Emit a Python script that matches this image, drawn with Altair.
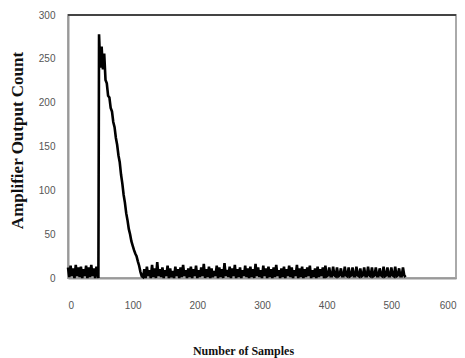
import altair as alt
import pandas as pd

# Pre-pulse baseline noise (samples 0..46, step 2)
pre_vals = [12, 1, 14, 2, 11, 0, 15, 2, 12, 1, 13, 0, 10, 2, 14, 0, 12, 1, 15, 2, 11, 0, 13, 3]
# Drop just before the pulse (sample 47)
drop_val = [0]
# Pulse (samples 48..114, step 2)
pulse_vals = [278, 240, 264, 238, 256, 226, 222, 208, 206, 194, 190, 178, 172, 160, 152, 140, 132,
              118, 108, 95, 86, 74, 66, 56, 50, 42, 37, 32, 28, 25, 19, 14, 7, 2]
# Tail noise (samples 116..398, step 2)
tail1_vals = [1, 10, 0, 13, 2, 9, 0, 15, 1, 11, 0, 18, 2, 10, 1, 12, 0, 9, 2, 14,
              0, 11, 1, 8, 0, 13, 2, 10, 0, 12, 1, 15, 2, 9, 0, 11, 1, 13, 0, 10,
              2, 14, 0, 9, 1, 12, 2, 16, 0, 10, 1, 13, 0, 11, 1, 8, 2, 14, 0, 12,
              1, 10, 0, 17, 2, 9, 1, 13, 0, 11, 2, 15, 0, 10, 1, 12, 0, 9, 2, 14,
              1, 11, 0, 13, 1, 10, 0, 16, 2, 12, 1, 9, 0, 14, 2, 11, 0, 13, 1, 10,
              0, 12, 1, 15, 2, 9, 0, 11, 1, 13, 0, 10, 2, 14, 1, 12, 0, 9, 2, 15,
              0, 11, 1, 13, 0, 10, 1, 12, 2, 14, 0, 9, 1, 11, 0, 13, 1, 10, 2, 12,
              0, 14]
# Tail spikes (samples 400..522, step 2)
tail2_vals = [2, 3, 12, 2, 2, 13, 3, 2, 12, 2, 3, 11, 2, 2, 13, 3, 2, 12, 2, 3,
              12, 2, 2, 13, 3, 2, 11, 2, 3, 12, 2, 2, 13, 3, 2, 12, 2, 3, 12, 2,
              2, 11, 3, 2, 13, 2, 3, 12, 2, 2, 12, 3, 2, 13, 2, 3, 11, 2, 2, 12,
              3, 1]

x_ticks = [0, 100, 200, 300, 400, 500, 600]
y_ticks = [0, 50, 100, 150, 200, 250, 300]

xs = (list(range(0, 47, 2)) + [47] + list(range(48, 115, 2))
      + list(range(116, 400, 2)) + list(range(400, 523, 2)))
ys = pre_vals + drop_val + pulse_vals + tail1_vals + tail2_vals
df = pd.DataFrame({"sample": xs, "count": ys})

W, H = 388, 263

line = alt.Chart(df).mark_line(color="black", strokeWidth=2.6).encode(
    x=alt.X("sample:Q",
            scale=alt.Scale(domain=[0, 600], nice=False, zero=False),
            axis=alt.Axis(values=x_ticks, title="Number of Samples", ticks=False,
                          grid=False, labelPadding=22, labelFontSize=10,
                          labelFont="Liberation Sans", labelColor="#555",
                          domainColor="#999", domainWidth=2,
                          titleFont="Liberation Serif", titleFontSize=12,
                          titleFontWeight="bold", titleColor="#111",
                          titleX=175, titleY=76, titleBaseline="alphabetic",
                          titleAlign="center")),
    y=alt.Y("count:Q",
            scale=alt.Scale(domain=[0, 300], nice=False),
            axis=alt.Axis(values=y_ticks, title="Amplifier Output Count", ticks=False,
                          grid=False, labelPadding=13, labelFontSize=10,
                          labelFont="Liberation Sans", labelColor="#555",
                          domainColor="#999", domainWidth=2,
                          titleFont="Liberation Serif", titleFontSize=17,
                          titleFontWeight="bold", titleColor="#111",
                          titleAngle=270, titleX=-51, titleY=125,
                          titleBaseline="middle", titleAlign="center")),
)

top_rule = alt.Chart(df).mark_rule(color="#444", strokeWidth=2).encode(
    x=alt.value(0), x2=alt.value(W), y=alt.value(0))

chart = alt.layer(line, top_rule).properties(
    width=W, height=H,
    autosize=alt.AutoSizeParams(type="none"),
    padding={"left": 60, "top": 7, "right": 1, "bottom": 80},
).configure_view(stroke="#aaa", strokeWidth=2)

chart.save("out.html", embed_options={"renderer": "svg", "actions": False})
